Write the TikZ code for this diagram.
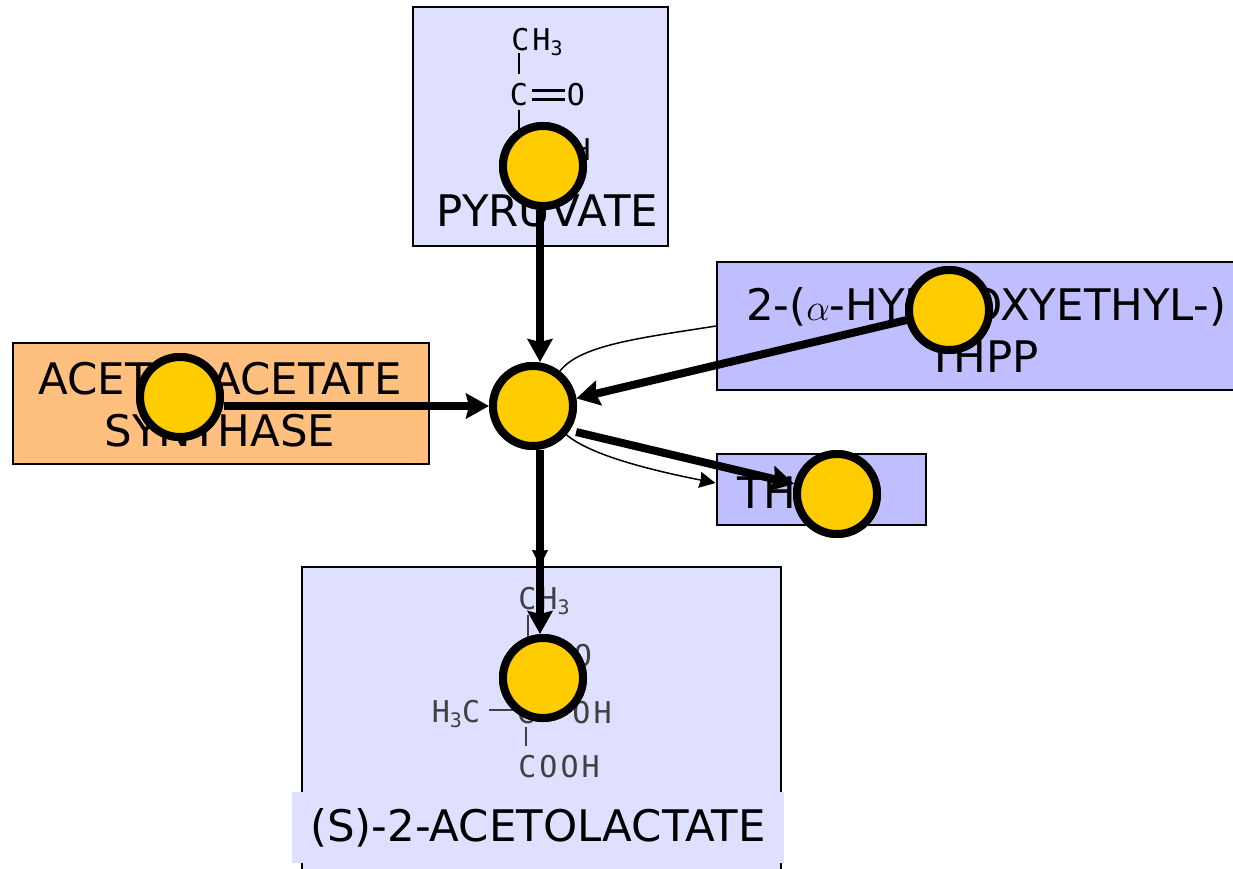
\documentclass[tikz,border=0pt]{standalone}
\usepackage{xcolor}
\usepackage{fontspec}
\setmainfont{DejaVu Sans}
\newfontfamily\chemfont[LetterSpace=10]{DejaVu Sans Mono}
\usepackage{tikz}
\usetikzlibrary{arrows.meta}
\definecolor{palebox}{HTML}{DFDFFF}
\definecolor{cofactorbox}{HTML}{BFBFFF}
\definecolor{enzymebox}{HTML}{FFBF7F}
\definecolor{discfill}{HTML}{FFCC00}
\newcommand{\chemsub}[1]{\raisebox{-5pt}{\fontsize{20}{20}\selectfont #1}}
\tikzset{
  >={Stealth[length=23pt,width=25pt,inset=3pt]},
  box/.style={draw=black,line width=2pt,inner sep=0pt},
  title/.style={font=\fontsize{43.5}{52}\selectfont,inner sep=0pt,align=center},
  disc/.style={circle,draw=black,fill=discfill,line width=8pt,minimum size=80pt,inner sep=0pt},
  heavy/.style={line width=8pt,->},
  slim/.style={line width=1.5pt,-{Stealth[length=16pt,width=16pt,inset=1pt]}},
  chem/.style={font=\chemfont\fontsize{30}{30}\selectfont,inner sep=0pt},
  chemgrey/.style={chem,text=black!75},
  bond/.style={line width=2.5pt},
  bondgrey/.style={line width=1.5pt,black!75}
}
\begin{document}
\begin{tikzpicture}[x=1pt,y=-1pt]
  \clip (0,0) rectangle (1233,868);
  % boxes
  \node[box,fill=palebox,minimum width=255pt,minimum height=239pt] (pyrbox) at (540.5,126.5) {};
  \node[box,fill=cofactorbox,minimum width=539pt,minimum height=128pt] (hydbox) at (986.5,326) {};
  \node[box,fill=cofactorbox,minimum width=209pt,minimum height=71pt] (thbox) at (821,489.5) {};
  \node[box,fill=enzymebox,minimum width=416pt,minimum height=121pt] (acsbox) at (221,403.5) {};
  \node[box,fill=palebox,minimum width=479pt,minimum height=340pt] (aclbox) at (541,737) {};
  % pyruvate
  \node[chem] (pyrch) at (537,42) {CH\chemsub{3}};
  \node[chem] (pyrc) at (519,95) {C};
  \node[chem] (pyro) at (576,95) {O};
  \node[chem] (pyrcooh) at (550,150) {COOH};
  \draw[bond] ([yshift=3pt]pyrch.south -| pyrc) -- ([yshift=9pt]pyrc.north);
  \draw[bond] ([yshift=-3pt]pyrc.south) -- (pyrcooh.north -| pyrc);
  \draw[bond] ([yshift=4.5pt]pyrc.center) ++(13,0) -- ([xshift=-2pt,yshift=4.5pt]pyro.west);
  \draw[bond] ([yshift=-4.5pt]pyrc.center) ++(13,0) -- ([xshift=-2pt,yshift=-4.5pt]pyro.west);
  % acetolactate
  \node[chemgrey] (aclch) at (544,601) {CH\chemsub{3}};
  \node[chemgrey] (aclc) at (526,656) {C};
  \node[chemgrey] (aclo) at (583,656) {O};
  \node[chemgrey] (aclme) at (456,714) {H\chemsub{3}C};
  \node[chemgrey] (aclcc) at (526,713) {C};
  \node[chemgrey] (acloh) at (592,713) {OH};
  \node[chemgrey] (aclcooh) at (559,767) {COOH};
  \draw[bondgrey] ([xshift=2pt]aclch.south -| aclc) -- ([xshift=2pt]aclc.north);
  \draw[bondgrey] ([yshift=3pt]aclcc.west -| aclme.east) ++(9,0) -- ([yshift=3pt]aclcc.west);
  \draw[bondgrey] ([yshift=-2pt]aclcc.south) -- ([yshift=9pt]aclcooh.north -| aclcc);
  % labels
  \node[title] (pyrlabel) at (547.5,211) {PYRUVATE};
  \node[title] (hydlabel) at (986,330) {2-(\scalebox{1.5}{$\alpha$}-HYDROXYETHYL-)\\\hspace*{-6pt}THPP};
  \node[title] (thlabel) at (793,493) {THPP};
  \node[title] (acslabel) at (220,405) {ACETOLACETATE\\SYNTHASE};
  \node[title,fill=palebox,minimum width=492pt,minimum height=71pt] (acllabel) at (538,827.5) {\raisebox{-3pt}{(S)-2-ACETOLACTATE}};
  % discs
  \node[disc] (pyr) at (543,166) {};
  \node[disc] (centre) at (533,406) {};
  \node[disc] (acs) at (180,397) {};
  \node[disc] (hyd) at (949,310) {};
  \node[disc] (th) at (837,494) {};
  \node[disc] (acl) at (543,678) {};
  % thin arrows
  \draw[line width=1.5pt] (hydbox.west) .. controls (640,338) and (580,345) .. (centre);
  \draw[slim] (centre) .. controls (590,455) and (650,470) .. ([yshift=6.5pt]thbox.west);
  \draw[slim] ([xshift=7pt]centre.south) -- (aclbox.north -| 540,0);
  % thick arrows
  \draw[heavy] ([xshift=-3pt]pyr.south) -- ([xshift=7pt]centre.north);
  \draw[heavy] ([yshift=-9pt]acs.east) -- (centre.west);
  \draw[heavy] (hyd) -- (centre.10);
  \draw[heavy] ([xshift=5pt,yshift=-4pt]centre.-30) -- (th);
  \draw[heavy] ([xshift=7pt]centre.south) -- ([xshift=-3pt]acl.north);
  \node[disc] at (centre) {};
  \node[disc] at (pyr) {};
  \node[disc] at (acs) {};
  \node[disc] at (hyd) {};
  \node[disc] at (th) {};
  \node[disc] at (acl) {};
\end{tikzpicture}
\end{document}
